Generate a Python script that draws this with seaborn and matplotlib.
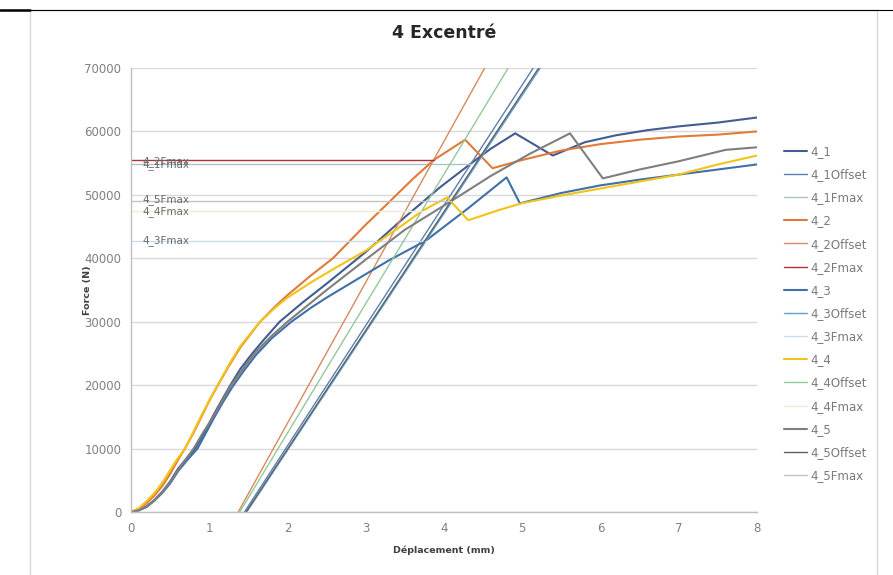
import numpy as np
import pandas as pd
import matplotlib
matplotlib.use("Agg")
import matplotlib.pyplot as plt
from matplotlib.lines import Line2D
from matplotlib.patches import Rectangle
import seaborn as sns

# main load curves (displacement mm, force N)
x_4_1 = [0, 0.1, 0.2, 0.3, 0.4, 0.5, 0.6, 0.7, 0.82, 0.95, 1.05, 1.15, 1.27, 1.4, 1.55, 1.7, 1.9, 2.2, 2.5, 3.0, 3.5, 3.95, 4.34, 4.6, 4.91, 5.39, 5.8, 6.2, 6.6, 7.0, 7.5, 8.0]
y_4_1 = [0, 300, 900, 1900, 3200, 4800, 6800, 8300, 10000, 12800, 15200, 17400, 20000, 22600, 25000, 27200, 30000, 33100, 36000, 41000, 46500, 51200, 54900, 57300, 59700, 56200, 58300, 59400, 60200, 60800, 61400, 62200]

x_4_2 = [0, 0.1, 0.2, 0.3, 0.4, 0.5, 0.6, 0.69, 0.8, 0.9, 1.0, 1.11, 1.25, 1.4, 1.65, 1.85, 2.0, 2.3, 2.58, 3.0, 3.31, 3.6, 3.87, 4.27, 4.62, 5.0, 5.5, 6.0, 6.5, 7.0, 7.5, 8.0]
y_4_2 = [0, 500, 1400, 2600, 4100, 6000, 8200, 10000, 12500, 15000, 17500, 20000, 23000, 26000, 30000, 32500, 34200, 37300, 40000, 45300, 49000, 52500, 55500, 58700, 54200, 55500, 57000, 58000, 58700, 59200, 59500, 60000]

x_4_3 = [0, 0.1, 0.2, 0.3, 0.4, 0.5, 0.6, 0.72, 0.85, 0.95, 1.05, 1.17, 1.3, 1.45, 1.6, 1.8, 2.05, 2.3, 2.5, 3.0, 3.3, 3.77, 4.3, 4.8, 4.97, 5.5, 6.0, 6.5, 7.0, 7.5, 8.0]
y_4_3 = [0, 250, 800, 1800, 3000, 4500, 6400, 8200, 10000, 12300, 14600, 17200, 19800, 22400, 24800, 27400, 30000, 32200, 33800, 37500, 39700, 42800, 47800, 52760, 48660, 50300, 51500, 52400, 53200, 54000, 54800]

x_4_4 = [0, 0.1, 0.2, 0.3, 0.4, 0.5, 0.6, 0.69, 0.8, 0.9, 1.0, 1.11, 1.25, 1.4, 1.65, 1.85, 2.0, 2.3, 2.6, 3.0, 3.5, 3.72, 4.04, 4.31, 4.7, 5.0, 5.5, 6.0, 6.5, 7.0, 7.5, 8.0]
y_4_4 = [0, 600, 1700, 3000, 4600, 6600, 8500, 10000, 12700, 15200, 17600, 20000, 23200, 26200, 30000, 32300, 33800, 36200, 38400, 41200, 45500, 47450, 49600, 46000, 47600, 48700, 49900, 51000, 52100, 53200, 54800, 56200]

x_4_5 = [0, 0.1, 0.2, 0.3, 0.4, 0.5, 0.6, 0.7, 0.8, 0.92, 1.05, 1.17, 1.28, 1.45, 1.6, 1.8, 2.0, 2.5, 3.0, 3.5, 4.09, 4.6, 5.1, 5.61, 6.03, 6.5, 7.0, 7.6, 8.0]
y_4_5 = [0, 280, 850, 1850, 3100, 4700, 6600, 8300, 10000, 12500, 15000, 17600, 20000, 22900, 25300, 27800, 30000, 35000, 39800, 44500, 49000, 53000, 56500, 59700, 52600, 54000, 55300, 57100, 57500]

# offset lines: displacement at 0 N and at 70000 N
offset_x0 = [1.45, 1.37, 1.48, 1.39, 1.47]
offset_x1 = [5.14, 4.52, 5.23, 4.82, 5.21]
offset_y = [0, 70000]

# Fmax levels and where the horizontal line stops
fmax_values = [54900, 55500, 42800, 47450, 49000]
fmax_end_x = [4.34, 3.87, 3.77, 3.72, 4.09]
fmax_label_y = [54800, 55200, 42800, 47300, 49300]

names = ["4_1", "4_2", "4_3", "4_4", "4_5"]
main_colors = ["#435C91", "#E07B39", "#3F70A8", "#F2C318", "#7F7F7F"]
offset_colors = ["#5B7FB0", "#D8895E", "#5BA3D9", "#93C99A", "#5F5F5F"]
fmax_colors = ["#A9C4C8", "#B0303A", "#C9DDEE", "#EEEBD6", "#C4C4C4"]

curves_x = [x_4_1, x_4_2, x_4_3, x_4_4, x_4_5]
curves_y = [y_4_1, y_4_2, y_4_3, y_4_4, y_4_5]

sns.set_theme(style="white")
plt.rcParams["font.family"] = ["DejaVu Sans"]

fig = plt.figure(figsize=(8.93, 5.75), dpi=100)
ax = fig.add_axes([0.1467, 0.1096, 0.701, 0.7721])

# frame of the chart area and the page line on top
fig.add_artist(Rectangle((30 / 893, -0.01), 847 / 893, 1 - 10 / 575 + 0.01,
                         transform=fig.transFigure, fill=False, edgecolor="#D9D9D9", lw=1))
fig.add_artist(Line2D([0, 1], [1 - 9.5 / 575] * 2, transform=fig.transFigure, color="black", lw=0.8))
fig.add_artist(Line2D([0, 30 / 893], [1 - 9.5 / 575] * 2, transform=fig.transFigure, color="black", lw=1.8))

for i, n in enumerate(names):
    sns.lineplot(x=curves_x[i], y=curves_y[i], ax=ax, color=main_colors[i], lw=1.5,
                 label=n, sort=False, estimator=None)
    sns.lineplot(x=[offset_x0[i], offset_x1[i]], y=offset_y, ax=ax, color=offset_colors[i], lw=1.0,
                 label=n + "Offset", sort=False, estimator=None)
    sns.lineplot(x=[0, fmax_end_x[i]], y=[fmax_values[i]] * 2, ax=ax, color=fmax_colors[i], lw=1.0,
                 label=n + "Fmax", sort=False, estimator=None)
    ax.text(0.15, fmax_label_y[i], n + "Fmax", fontsize=7.5, color="#6A6A6A", va="center", ha="left")

ax.set_xlim(0, 8)
ax.set_ylim(0, 70000)
ax.set_xticks(range(0, 9))
ax.set_yticks(range(0, 70001, 10000))
ax.yaxis.grid(True, color="#D9D9D9", lw=1)
ax.set_axisbelow(True)
for s in ["top", "right"]:
    ax.spines[s].set_visible(False)
for s in ["left", "bottom"]:
    ax.spines[s].set_color("#BFBFBF")
    ax.spines[s].set_linewidth(1)
ax.tick_params(axis="y", labelsize=8.5, colors="#808080", length=0, pad=7)
ax.tick_params(axis="x", labelsize=8.5, colors="#808080", length=0, pad=7)
ax.set_xlabel("Déplacement (mm)", fontsize=6.8, fontweight="bold", color="#404040", labelpad=8)
ax.set_ylabel("Force (N)", fontsize=6.8, fontweight="bold", color="#404040")
ax.yaxis.set_label_coords(-0.062, 0.5)

fig.text(0.497, 1 - 33 / 575, "4 Excentré", fontsize=12.5, fontweight="bold", ha="center", va="center", color="#262626")

handles, labels = ax.get_legend_handles_labels()
ax.get_legend().remove()
fig.legend(handles, labels, loc="upper left", bbox_to_anchor=(784 / 893, 1 - 145 / 575), frameon=False,
           fontsize=8.5, labelcolor="#7A7A7A", handlelength=1.95, handletextpad=0.25, labelspacing=0.86,
           borderpad=0, borderaxespad=0)

fig.savefig("out.png", dpi=100)
